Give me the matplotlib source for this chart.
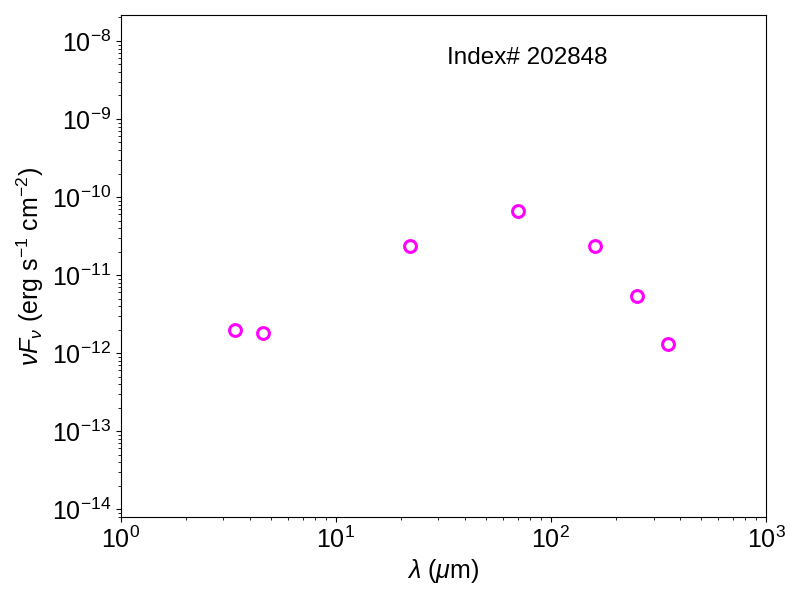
import matplotlib
matplotlib.use("Agg")
import matplotlib.pyplot as plt

plt.rcParams['font.family'] = ['Liberation Sans', 'DejaVu Sans']
plt.rcParams['mathtext.fontset'] = 'custom'
plt.rcParams['mathtext.rm'] = 'Liberation Sans'
plt.rcParams['mathtext.it'] = 'Liberation Sans:italic'
plt.rcParams['mathtext.bf'] = 'Liberation Sans:bold'

# SED photometry (WISE + Herschel bands)
wavelength = [3.4, 4.6, 22, 70, 160, 250, 350]
nu_f_nu = [2.0e-12, 1.8e-12, 2.35e-11, 6.6e-11, 2.35e-11, 5.4e-12, 1.3e-12]
source_id = "202848"

fig = plt.figure(figsize=(8, 6), dpi=100)
ax = fig.add_axes([0.151, 0.138, 0.8065, 0.837])

ax.plot(wavelength, nu_f_nu, 'o', mfc='none', mec='magenta', mew=2.2, ms=8.5)

ax.set_xscale('log')
ax.set_yscale('log')
ax.set_xlim(1, 1e3)
ax.set_ylim(7.9e-15, 2.15e-8)

ax.set_xlabel(r'$\lambda$ ($\mu$m)', fontsize=18, labelpad=3)
ax.set_ylabel(r'$\nu F_\nu$ (erg s$^{-1}$ cm$^{-2}$)', fontsize=18)
ax.tick_params(axis='both', which='major', labelsize=18)

ax.text(0.63, 0.915, 'Index# ' + source_id, transform=ax.transAxes, fontsize=17.5,
        ha='center', va='center')

fig.savefig('out.png', dpi=100)
